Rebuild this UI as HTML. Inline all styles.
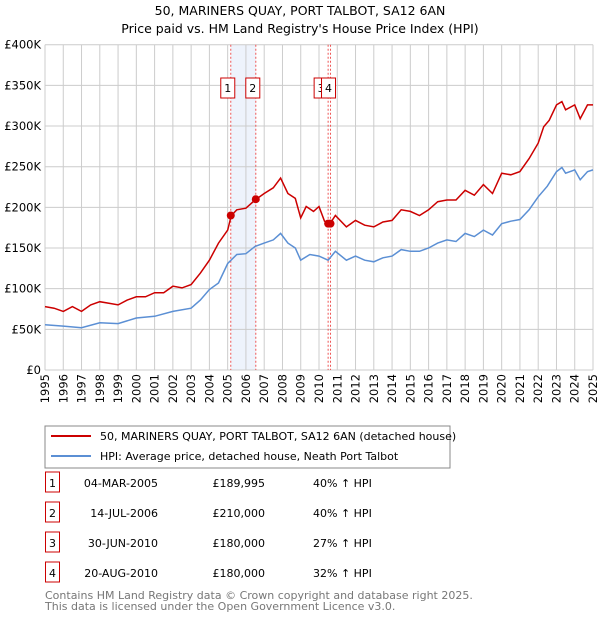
<!DOCTYPE html>
<html><head><meta charset="utf-8"><style>
body{margin:0;background:#fff;font-family:"Liberation Sans","DejaVu Sans",sans-serif;}
svg text{font-family:"DejaVu Sans","Liberation Sans",sans-serif;}
</style></head><body>
<svg id="c" width="600" height="620" viewBox="0 0 600 620" xmlns="http://www.w3.org/2000/svg">
<text x="300" y="15" text-anchor="middle" font-size="12.5">50, MARINERS QUAY, PORT TALBOT, SA12 6AN</text>
<text x="300" y="33" text-anchor="middle" font-size="12.5">Price paid vs. HM Land Registry's House Price Index (HPI)</text>
<g id="grid"></g><g id="marks"></g><g id="series"></g><g id="axes"></g>
<rect x="45" y="426" width="405" height="42" fill="#fff" stroke="#888"/>
<line x1="51" y1="436" x2="91" y2="436" stroke="#cc0000" stroke-width="2"/>
<text x="100" y="440" font-size="11">50, MARINERS QUAY, PORT TALBOT, SA12 6AN (detached house)</text>
<line x1="51" y1="456" x2="91" y2="456" stroke="#5b8fd4" stroke-width="2"/>
<text x="100" y="460" font-size="11">HPI: Average price, detached house, Neath Port Talbot</text>
<g id="table" font-size="11"></g>
<text x="45" y="599" font-size="11" fill="#777">Contains HM Land Registry data © Crown copyright and database right 2025.</text>
<text x="45" y="610" font-size="11" fill="#777">This data is licensed under the Open Government Licence v3.0.</text>
</svg>
<script>
const hpiYears=[1995,1996,1997,1998,1999,2000,2001,2002,2003,2003.5,2004,2004.5,2005,2005.5,2006,2006.5,2007,2007.5,2007.9,2008.3,2008.7,2009,2009.5,2010,2010.5,2010.9,2011.5,2012,2012.5,2013,2013.5,2014,2014.5,2015,2015.5,2016,2016.5,2017,2017.5,2018,2018.5,2019,2019.5,2020,2020.5,2021,2021.5,2022,2022.5,2023,2023.3,2023.5,2024,2024.3,2024.7,2025];
const hpiValues=[55.7,54,52,58,57,64,66,72,76,86,99,107,131,142,143,152,156,160,168,156,150,135,142,140,135,146,135,140,135,133,138,140,148,146,146,150,156,160,158,168,164,172,166,180,183,185,197,213,226,244,249,242,246,234,244,246];
const priceYears=[1995,1995.5,1996,1996.5,1997,1997.5,1998,1998.5,1999,1999.5,2000,2000.5,2001,2001.5,2002,2002.5,2003,2003.5,2004,2004.5,2005,2005.2,2005.5,2006,2006.5,2007,2007.5,2007.9,2008.3,2008.7,2009,2009.3,2009.7,2010,2010.3,2010.6,2010.9,2011.5,2012,2012.5,2013,2013.5,2014,2014.5,2015,2015.5,2016,2016.5,2017,2017.5,2018,2018.5,2019,2019.5,2020,2020.5,2021,2021.5,2022,2022.3,2022.6,2023,2023.3,2023.5,2024,2024.3,2024.7,2025];
const priceValues=[78,76,72,78,72,80,84,82,80,86,90,90,95,95,103,101,105,119,135,156,172,190,197,199,209,217,224,236,217,211,187,201,195,201,183,180,190,176,184,178,176,182,184,197,195,190,197,207,209,209,221,215,228,217,242,240,244,260,279,299,307,326,330,320,326,309,326,326];
const saleDates=[2005.17,2006.54,2010.5,2010.63];
const salePrices=[189.995,210,180,180];
const saleLabels=["1","2","3","4"];
const saleDateText=["04-MAR-2005","14-JUL-2006","30-JUN-2010","20-AUG-2010"];
const salePriceText=["£189,995","£210,000","£180,000","£180,000"];
const saleHpiText=["40% ↑ HPI","40% ↑ HPI","27% ↑ HPI","32% ↑ HPI"];
const yTicks=[0,50,100,150,200,250,300,350,400];
const yTickLabels=["£0","£50K","£100K","£150K","£200K","£250K","£300K","£350K","£400K"];
const xTicks=[1995,1996,1997,1998,1999,2000,2001,2002,2003,2004,2005,2006,2007,2008,2009,2010,2011,2012,2013,2014,2015,2016,2017,2018,2019,2020,2021,2022,2023,2024,2025];

const X0=45,X1=593,Y0=370,Y1=44.7;
const xs=v=>X0+(v-1995)/30*(X1-X0);
const ys=v=>Y0-v/400*(Y0-Y1);
const NS="http://www.w3.org/2000/svg";
function mk(tag,attrs,parent,txt){const e=document.createElementNS(NS,tag);for(const k in attrs)e.setAttribute(k,attrs[k]);if(txt!=null)e.textContent=txt;document.getElementById(parent).appendChild(e);return e;}
// shade
let sh=mk('rect',{x:xs(saleDates[0]),y:Y1,width:xs(saleDates[1])-xs(saleDates[0]),height:Y0-Y1,fill:'#eef3fc'},'grid');


yTicks.forEach((t,i)=>{
 let l=mk('line',{x1:X0,x2:X1,y1:ys(t),y2:ys(t),stroke:'#ccc'},'grid');
 
 
 let tx=mk('text',{x:X0-4,y:ys(t)+4,'text-anchor':'end','font-size':'11.5'},'axes',yTickLabels[i]);
 
 
});
xTicks.forEach(t=>{
 let l=mk('line',{x1:xs(t),x2:xs(t),y1:Y1,y2:Y0,stroke:'#ccc'},'grid');
 
 
 let tx=mk('text',{x:0,y:0,'text-anchor':'end','font-size':'11.5',transform:`translate(${xs(t)+4},${Y0+4}) rotate(-90)`},'axes',String(t));
 
 
});
saleDates.forEach((d,i)=>{
 let l=mk('line',{x1:xs(d),x2:xs(d),y1:Y1,y2:Y0,stroke:'#e55','stroke-dasharray':'2,2','stroke-width':1},'marks');
 
 
});
const boxOff=[-3,-3,-7,-2];
saleDates.forEach((d,i)=>{
 const cx=xs(d)+boxOff[i];
 let r=mk('rect',{x:cx-7,y:78,width:14,height:20,fill:'#fff',stroke:'#cc0000'},'marks');
 
 
 let t=mk('text',{x:cx,y:92,'text-anchor':'middle','font-size':'11'},'marks',saleLabels[i]);
 
 
});
const pts=(a,b)=>a.map((x,i)=>xs(x).toFixed(1)+','+ys(b[i]).toFixed(1)).join(' ');
let h=mk('polyline',{points:pts(hpiYears,hpiValues),fill:'none',stroke:'#5b8fd4','stroke-width':1.5},'series');


let p=mk('polyline',{points:pts(priceYears,priceValues),fill:'none',stroke:'#cc0000','stroke-width':1.5},'series');


saleDates.forEach((d,i)=>{
 let c=mk('circle',{cx:xs(d),cy:ys(salePrices[i]),r:4,fill:'#cc0000'},'series');
 
 
});
saleLabels.forEach((s,i)=>{
 const y=483+i*30;
 let r=mk('rect',{x:45.5,y:y-11,width:14,height:20,fill:'#fff',stroke:'#cc0000'},'table');
 
 
 let t=mk('text',{x:52.5,y:y+4,'text-anchor':'middle'},'table',s);
 
 
 let a=mk('text',{x:158,y:y+4,'text-anchor':'end'},'table',saleDateText[i]);
 
 
 let b=mk('text',{x:265,y:y+4,'text-anchor':'end'},'table',salePriceText[i]);
 
 
 let c=mk('text',{x:313,y:y+4},'table',saleHpiText[i]);
 
 
});
</script>
</body></html>
